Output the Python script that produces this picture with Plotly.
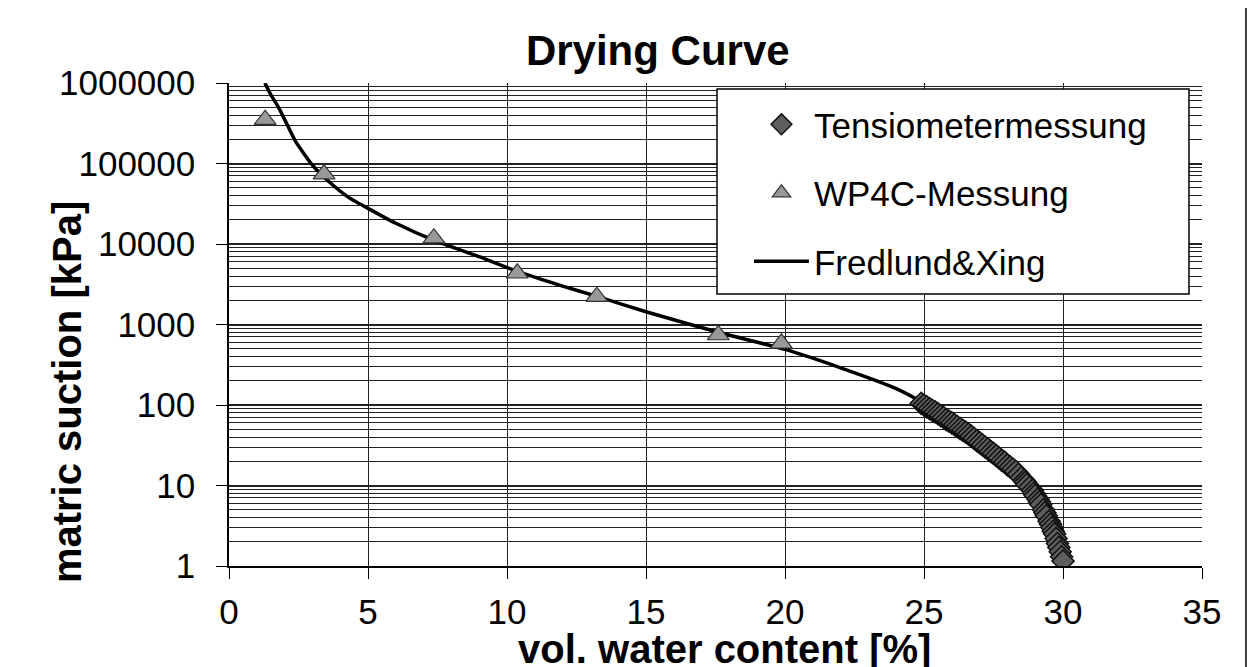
import plotly.graph_objects as go

# Fredlund & Xing fit curve
curve_x = [1.29, 1.5, 1.8, 2.1, 2.4, 3.0, 3.6, 4.3, 5.0, 6.0, 7.4, 9.0, 10.4, 12.0, 13.3,
           15.0, 17.6, 20.0, 22.0, 24.0, 25.0, 26.0, 27.0, 28.0, 28.6, 29.1, 29.5, 29.75, 29.9, 30.0]
curve_y = [1000000, 720000, 485000, 300000, 186600, 95700, 59400, 38000, 27700, 18100, 11000,
           6960, 4530, 3000, 2200, 1440, 800, 490, 290, 160, 105, 63, 34, 18, 11, 7, 3.8, 2.3, 1.5, 1.0]

# WP4C measurements (triangles)
wp4c_x = [1.3, 3.42, 7.37, 10.37, 13.23, 17.6, 19.87]
wp4c_y = [350000, 74000, 11800, 4330, 2215, 741, 584]

# Tensiometer measurements (diamonds)
tens_x = [24.9, 25.0, 25.1, 25.2, 25.3, 25.4, 25.5, 25.6, 25.7, 25.8, 25.9, 26.0, 26.1, 26.2,
          26.3, 26.4, 26.5, 26.6, 26.7, 26.8, 26.9, 27.0, 27.1, 27.2, 27.3, 27.4, 27.5, 27.6,
          27.7, 27.8, 27.9, 28.0, 28.1, 28.2, 28.3, 28.4, 28.5, 28.6, 28.65, 28.7, 28.8, 28.9,
          28.95, 29.0, 29.1, 29.15, 29.2, 29.3, 29.35, 29.4, 29.5, 29.55, 29.6, 29.65, 29.7,
          29.75, 29.8, 29.85, 29.9, 29.95, 30.0]
tens_y = [105, 100, 95, 90, 86, 82, 78, 74, 70, 66, 63, 60, 57, 54, 51, 48.5, 46, 43.5, 41,
          38.5, 36, 34, 32, 30, 28.5, 26.5, 25, 23.5, 22, 20.5, 19.5, 18, 17, 16, 15, 13.8, 12.5,
          11.5, 11, 10.3, 9.5, 8.7, 8, 7.5, 6.8, 6.3, 5.8, 5, 4.6, 4.2, 3.6, 3.3, 3.0, 2.7, 2.5,
          2.2, 1.9, 1.7, 1.5, 1.3, 1.15]

y_tickvals = [1, 10, 100, 1000, 10000, 100000, 1000000]
y_ticktext = ["1", "10", "100", "1000", "10000", "100000", "1000000"]
x_tickvals = [0, 5, 10, 15, 20, 25, 30, 35]

FONT = "Liberation Sans, Arial, sans-serif"

# page body has an 8px margin: figure is drawn 8px in from the top-left corner
W, H = 1252, 659

fig = go.Figure()
fig.add_trace(go.Scatter(
    x=curve_x, y=curve_y, mode="lines", name="Fredlund&Xing",
    line=dict(color="black", width=3.5, shape="spline", smoothing=0.6),
    legendrank=3, legendgroup="c"))
fig.add_trace(go.Scatter(
    x=tens_x, y=tens_y, mode="markers", name="Tensiometermessung",
    marker=dict(symbol="diamond", size=17, color="#5e5e5e",
                line=dict(color="#111111", width=1.5)), legendrank=1, legendgroup="a"))
fig.add_trace(go.Scatter(
    x=wp4c_x, y=wp4c_y, mode="markers", name="WP4C-Messung",
    marker=dict(symbol="triangle-up", size=19, color="#999999",
                line=dict(color="#333333", width=1.2)), legendrank=2, legendgroup="b"))

fig.update_layout(
    width=W, height=H,
    margin=dict(l=221, r=58, t=75, b=101),
    paper_bgcolor="white", plot_bgcolor="white",
    font=dict(family=FONT, size=35, color="black"),
    title=dict(text="<b>Drying Curve</b>", x=0.519, xanchor="center", y=0.936,
               yanchor="middle", font=dict(size=42, family=FONT, color="black")),
    showlegend=True,
    legend=dict(x=0.5344, y=0.975, xanchor="left", yanchor="top",
                borderwidth=0, bgcolor="rgba(0,0,0,0)",
                font=dict(size=35, family=FONT, color="black"),
                traceorder="grouped", tracegroupgap=20, itemwidth=55),
    xaxis=dict(range=[0, 35], tickvals=x_tickvals, showgrid=True, gridcolor="#222222",
               gridwidth=1, showline=True, linecolor="black", linewidth=1.5,
               ticks="outside", ticklen=11, tickcolor="black", zeroline=False,
               ticklabelstandoff=3,
               tickfont=dict(size=35, family=FONT, color="black"), mirror=False),
    yaxis=dict(type="log", range=[0, 6], tickvals=y_tickvals, ticktext=y_ticktext,
               showgrid=True, gridcolor="#222222", gridwidth=1.5, showline=True,
               linecolor="black", linewidth=1.5, ticks="outside", ticklen=11,
               tickcolor="black", zeroline=False, ticklabelstandoff=14,
               tickfont=dict(size=35, family=FONT, color="black"),
               minor=dict(dtick="D1", showgrid=True, gridcolor="#222222", gridwidth=1,
                          ticks="")),
    annotations=[
        dict(text="<b>vol. water content [%]</b>", x=0.509, y=-0.172, xref="paper",
             yref="paper", showarrow=False, xanchor="center", yanchor="middle",
             font=dict(size=40, family=FONT, color="black")),
        dict(text="<b>matric suction [kPa]</b>", x=-0.1665, y=0.360, xref="paper",
             yref="paper", showarrow=False, xanchor="center", yanchor="middle",
             textangle=-90, font=dict(size=40, family=FONT, color="black")),
    ],
    shapes=[
        dict(type="line", xref="paper", yref="paper", x0=1.0452, x1=1.0452,
             y0=-0.25, y1=1.25, line=dict(color="black", width=1.5)),
        dict(type="rect", xref="paper", yref="paper", layer="above",
             x0=(717 - 229) / 973, x1=(1189 - 229) / 973,
             y0=(566 - 294) / 483, y1=(566 - 89) / 483,
             fillcolor="white", line=dict(color="black", width=1.5)),
    ],
)

fig.write_html("out.html", config={"displayModeBar": False})
